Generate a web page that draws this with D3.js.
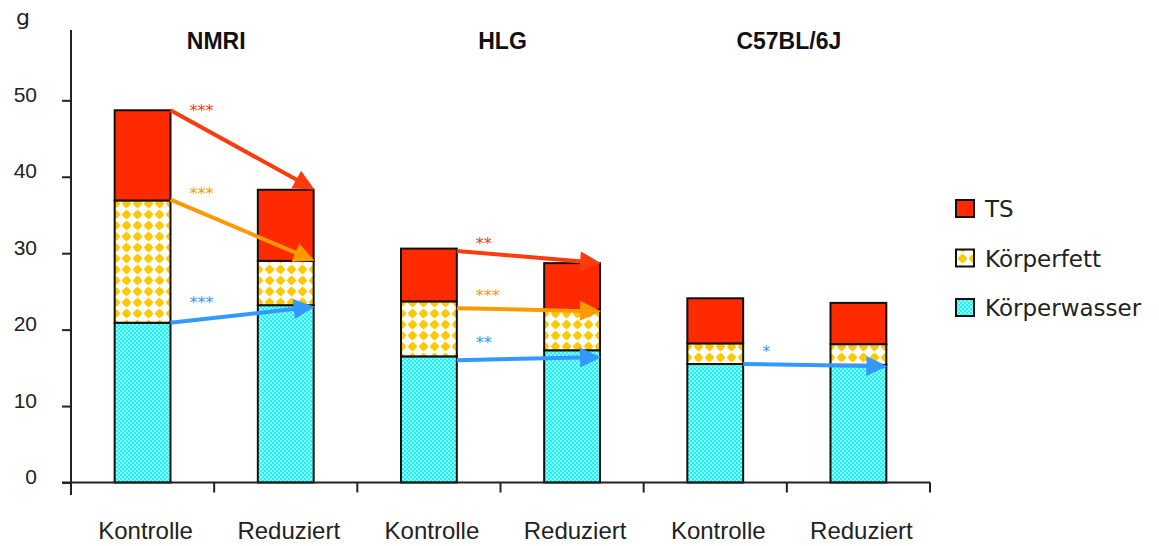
<!DOCTYPE html>
<html><head><meta charset="utf-8">
<script src="https://cdn.jsdelivr.net/npm/d3@7"></script>
<style>html,body{margin:0;padding:0;background:#fff;}svg{display:block;}</style>
</head><body>
<svg id="chart" width="1159" height="546"></svg>
<script>
// ---- data ----
const groups = ["NMRI", "HLG", "C57BL/6J"];
const conditions = ["Kontrolle", "Reduziert"];
const seriesNames = ["Körperwasser", "Körperfett", "TS"];
const koerperwasser = [20.9, 23.2, 16.5, 17.3, 15.5, 15.4];
const koerperfett   = [16.0, 5.8, 7.2, 5.3, 2.7, 2.7];
const tsValues      = [11.8, 9.3, 6.9, 6.1, 5.9, 5.4];
const yTicks = [0, 10, 20, 30, 40, 50];
const yLabel = "g";
const legendOrder = ["TS", "Körperfett", "Körperwasser"];
// significance arrows (Kontrolle -> Reduziert)
const arrowGroups = ["NMRI", "NMRI", "NMRI", "HLG", "HLG", "HLG", "C57BL/6J"];
const arrowSeries = ["TS", "Körperfett", "Körperwasser", "TS", "Körperfett", "Körperwasser", "Körperwasser"];
const arrowFrom   = [48.7, 37.0, 20.9, 30.3, 22.8, 16.0, 15.5];
const arrowTo     = [38.3, 29.0, 23.0, 28.7, 22.4, 16.4, 15.2];
const arrowStars  = ["***", "***", "***", "**", "***", "**", "*"];
const starLevel   = [49.2, 38.3, 24.1, 31.8, 25.0, 18.9, 17.6];

// ---- build table ----
const categories = [];
groups.forEach(g => conditions.forEach(c => categories.push(g + "|" + c)));
const table = categories.map((k, i) => ({
  key: k, group: k.split("|")[0], cond: k.split("|")[1],
  "Körperwasser": koerperwasser[i], "Körperfett": koerperfett[i], "TS": tsValues[i]
}));
const stacked = d3.stack().keys(seriesNames)(table);

const svg = d3.select("#chart");
const defs = svg.append("defs");

// patterns
const pw = defs.append("pattern").attr("id", "pWasser").attr("patternUnits", "userSpaceOnUse")
  .attr("width", 4).attr("height", 4);
pw.append("rect").attr("width", 4).attr("height", 4).attr("fill", "#1ef2f2");
pw.append("circle").attr("cx", 1).attr("cy", 1).attr("r", 0.85).attr("fill", "#ffffff");
pw.append("circle").attr("cx", 3).attr("cy", 3).attr("r", 0.85).attr("fill", "#ffffff");

const pf = defs.append("pattern").attr("id", "pFett").attr("patternUnits", "userSpaceOnUse")
  .attr("width", 11).attr("height", 11);
pf.append("rect").attr("width", 11).attr("height", 11).attr("fill", "#ffffff");
pf.append("path").attr("d", "M5.5,0.6 L10.4,5.5 L5.5,10.4 L0.6,5.5 Z").attr("fill", "#ffc800");
pf.append("circle").attr("cx", 5.5).attr("cy", 5.5).attr("r", 3.6).attr("fill", "#ffc800");

const fills = { "TS": "#ff2a00", "Körperfett": "url(#pFett)", "Körperwasser": "url(#pWasser)" };
const arrowColors = { "TS": "#ff3a0c", "Körperfett": "#ff9900", "Körperwasser": "#3399ff" };

// scales
const x = d3.scaleBand().domain(categories).range([71, 930]).paddingInner(0.61).paddingOuter(0.305);
const y = d3.scaleLinear().domain([0, 59.2]).range([482.5, 30]);

// bars
stacked.forEach(s => {
  svg.append("g").selectAll("rect").data(s).join("rect")
    .attr("x", d => x(d.data.key))
    .attr("y", d => y(d[1]))
    .attr("width", x.bandwidth())
    .attr("height", d => y(d[0]) - y(d[1]))
    .attr("fill", fills[s.key])
    .attr("stroke", "#111").attr("stroke-width", 2);
});

// axes
const axisG = svg.append("g");
axisG.append("line").attr("x1", 71).attr("x2", 71).attr("y1", y.range()[1]).attr("y2", 495)
  .attr("stroke", "#222").attr("stroke-width", 2);
axisG.append("line").attr("x1", 62).attr("x2", x.range()[1]).attr("y1", y(0)).attr("y2", y(0))
  .attr("stroke", "#222").attr("stroke-width", 2);
const yAxis = svg.append("g").attr("transform", "translate(71,0)")
  .call(d3.axisLeft(y).tickValues(yTicks).tickSize(9).tickPadding(25).tickFormat(d3.format("d")));
yAxis.select(".domain").remove();
yAxis.selectAll(".tick line").attr("stroke", "#222").attr("stroke-width", 2);
yAxis.selectAll(".tick text").attr("dy", "0").attr("y", 1)
  .attr("font-family", "Liberation Sans, Arial, sans-serif").attr("font-size", 21).attr("fill", "#222");

// x ticks at slot boundaries
const bounds = d3.range(1, categories.length + 1).map(i => x.range()[0] + i * x.step());
svg.append("g").selectAll("line").data(bounds).join("line")
  .attr("x1", d => d).attr("x2", d => d).attr("y1", y(0)).attr("y2", y(0) + 10)
  .attr("stroke", "#222").attr("stroke-width", 2);

// x labels
svg.append("g").selectAll("text").data(table).join("text")
  .attr("x", d => x(d.key) + x.bandwidth() / 2 + 3)
  .attr("y", 539)
  .attr("text-anchor", "middle")
  .attr("font-family", "Liberation Sans, Arial, sans-serif").attr("font-size", 24).attr("fill", "#222")
  .text(d => d.cond);

// group titles
svg.append("g").selectAll("text").data(groups).join("text")
  .attr("x", g => (x(g + "|Kontrolle") + x(g + "|Reduziert") + x.bandwidth()) / 2 + 2)
  .attr("y", 49)
  .attr("text-anchor", "middle")
  .attr("font-family", "Liberation Sans, Arial, sans-serif").attr("font-weight", "bold")
  .attr("font-size", 23).attr("fill", "#111")
  .text(g => g);

// y label
svg.append("text").attr("x", 16).attr("y", 25)
  .attr("font-family", "DejaVu Sans, sans-serif").attr("font-size", 22).attr("fill", "#222")
  .text(yLabel);

// arrows
const arrowG = svg.append("g");
arrowFrom.forEach((v, i) => {
  const g = arrowGroups[i];
  const x0 = x(g + "|Kontrolle") + x.bandwidth();
  const x1 = x(g + "|Reduziert") + x.bandwidth() + 1;
  const y0 = y(v), y1 = y(arrowTo[i]);
  const dx = x1 - x0, dy = y1 - y0, len = Math.hypot(dx, dy);
  const ux = dx / len, uy = dy / len;
  const hl = 21, hw = 10;
  const bx = x1 - ux * hl, by = y1 - uy * hl;
  const col = arrowColors[arrowSeries[i]];
  arrowG.append("line").attr("x1", x0).attr("y1", y0).attr("x2", bx + ux * 2).attr("y2", by + uy * 2)
    .attr("stroke", col).attr("stroke-width", 4);
  arrowG.append("path")
    .attr("d", `M${x1},${y1}L${bx - uy * hw},${by + ux * hw}L${bx + uy * hw},${by - ux * hw}Z`)
    .attr("fill", col);
  arrowG.append("text")
    .attr("x", x0 + 19).attr("y", y(starLevel[i]) + 9.5)
    .attr("font-family", "DejaVu Sans, sans-serif").attr("font-size", 16).attr("fill", col)
    .text(arrowStars[i]);
});

// legend
const lg = svg.append("g");
legendOrder.forEach((k, i) => {
  const yy = 200 + i * 49.5;
  lg.append("rect").attr("x", 956).attr("y", yy).attr("width", 18).attr("height", 17)
    .attr("fill", fills[k]).attr("stroke", "#111").attr("stroke-width", 2);
  lg.append("text").attr("x", 985).attr("y", yy + 17)
    .attr("font-family", "DejaVu Sans, sans-serif").attr("font-size", 23).attr("fill", "#222")
    .text(k);
});
</script>
</body></html>
